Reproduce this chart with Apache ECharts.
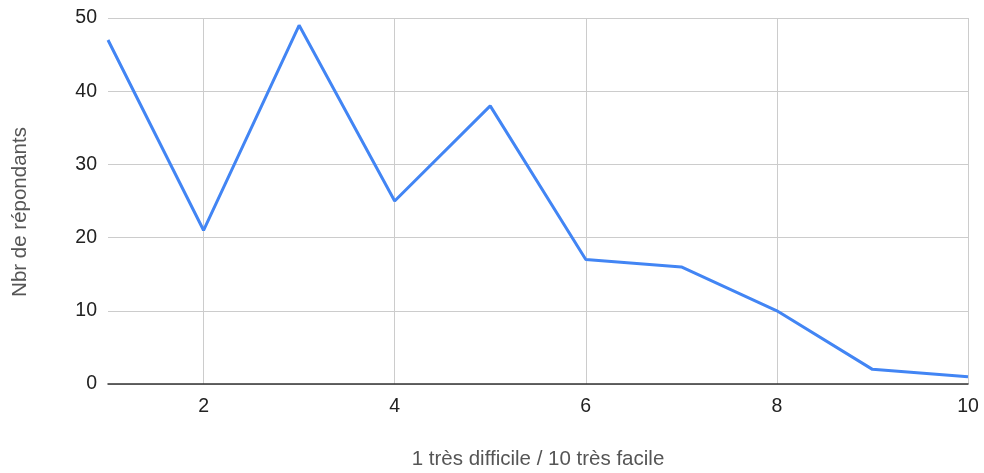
<!DOCTYPE html>
<html><head><meta charset="utf-8">
<script src="https://cdn.jsdelivr.net/npm/echarts@6/dist/echarts.min.js"></script>
<style>html,body{margin:0;padding:0;background:#fff}#c{width:984px;height:473px}</style>
</head><body><div id="c"></div>
<script>
const categories = ['1','2','3','4','5','6','7','8','9','10'];
const values = [47, 21, 49, 25, 38, 17, 16, 10, 2, 1];
const xTitle = '1 très difficile / 10 très facile';
const yTitle = 'Nbr de répondants';

const chart = echarts.init(document.getElementById('c'));
const font = 'Liberation Sans, Arial, sans-serif';
chart.setOption({
  animation: false,
  grid: {left: 108, right: 16, top: 18, bottom: 89, outerBoundsMode: 'none', containLabel: false},
  xAxis: {
    type: 'category', data: categories, boundaryGap: false,
    name: xTitle, nameLocation: 'middle', nameGap: 65,
    nameTextStyle: {color: '#555', fontSize: 20.5, fontFamily: font},
    axisLine: {lineStyle: {color: '#333', width: 1.5}},
    axisTick: {show: false},
    axisLabel: {color: '#222', fontSize: 19.5, fontFamily: font, margin: 13,
      interval: (i) => i % 2 === 1},
    splitLine: {show: true, interval: (i) => i % 2 === 1 && i > 0,
      lineStyle: {color: '#ccc', width: 1}}
  },
  yAxis: {
    type: 'value', min: 0, max: 50, interval: 10,
    name: yTitle, nameLocation: 'middle', nameGap: 77,
    nameTextStyle: {color: '#555', fontSize: 20.5, fontFamily: font, padding: [0, 22, 0, 0]},
    axisLine: {show: false}, axisTick: {show: false},
    axisLabel: {color: '#222', fontSize: 19.5, fontFamily: font, margin: 11},
    splitLine: {lineStyle: {color: '#ccc', width: 1}}
  },
  series: [{
    type: 'line', data: values, symbol: 'none',
    lineStyle: {color: '#4285f4', width: 3}
  }]
});
</script></body></html>
